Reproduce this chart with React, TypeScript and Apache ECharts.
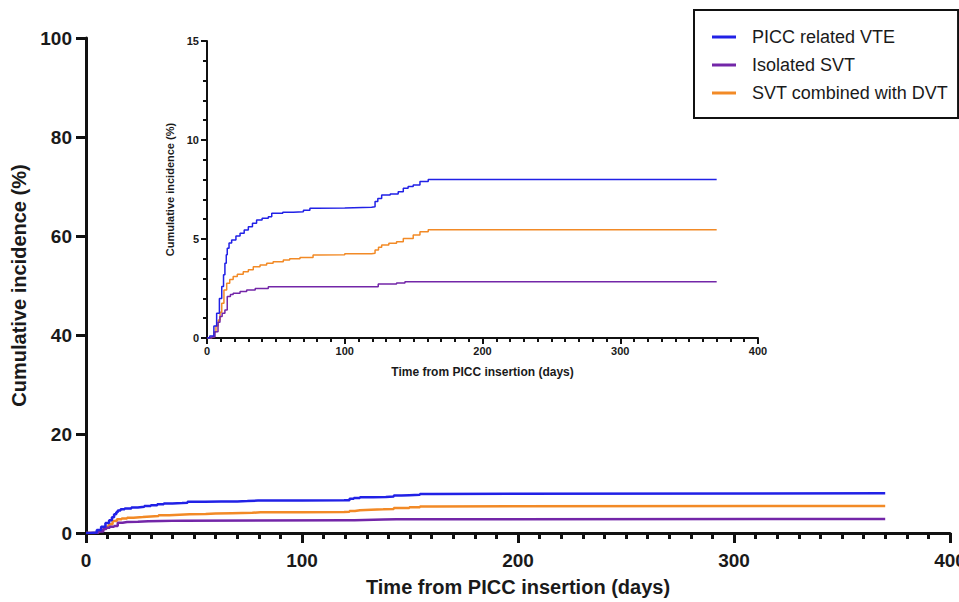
import React, { useEffect, useRef } from "react";
import * as echarts from "echarts";

// ---- Data (cumulative incidence, %) ----
const seriesNames = ["PICC related VTE", "Isolated SVT", "SVT combined with DVT"];
const seriesColors = ["#2121e6", "#7326a8", "#f28a26"];

const vteDays = [0, 2, 5, 7, 9, 10.7, 12, 13, 14, 14.7, 16, 17.9, 21, 24, 27, 30, 33, 36, 40, 44.5, 47, 55, 62.6, 70, 74.7, 79.6, 100, 119.5, 122, 124, 126.8, 133, 138.8, 142.5, 146, 149.7, 154.6, 160.6, 370];
const vteValues = [0, 0.1, 0.6, 1.25, 2.0, 2.6, 3.2, 3.77, 4.2, 4.53, 4.8, 4.95, 5.15, 5.29, 5.45, 5.62, 5.8, 5.96, 6.05, 6.13, 6.3, 6.35, 6.38, 6.45, 6.55, 6.57, 6.6, 6.63, 6.9, 7.05, 7.22, 7.27, 7.39, 7.56, 7.65, 7.73, 7.9, 8.01, 8.01];

const svtDays = [0, 3.5, 5.8, 8, 9.4, 11, 13, 14.7, 17, 19, 24, 28.8, 35, 44.5, 120.7, 124.3, 137.6, 143.7, 370];
const svtValues = [0, 0.05, 0.32, 0.8, 1.08, 1.25, 1.41, 2.09, 2.2, 2.26, 2.35, 2.42, 2.5, 2.59, 2.59, 2.73, 2.78, 2.84, 2.84];

const dvtDays = [0, 3.5, 5, 6.5, 8.2, 9.5, 10.7, 12.3, 14.3, 16.5, 19, 22, 26.3, 30, 33.6, 38.5, 43.3, 48, 55.4, 60, 67.5, 77, 80.8, 100, 119.5, 122, 124.5, 126.8, 132, 137.6, 142.5, 149.7, 154.6, 160.6, 370];
const dvtValues = [0, 0.05, 0.3, 0.6, 0.91, 1.3, 1.75, 2.42, 2.76, 2.95, 3.1, 3.22, 3.35, 3.45, 3.6, 3.69, 3.77, 3.85, 3.94, 4.0, 4.07, 4.19, 4.2, 4.25, 4.28, 4.44, 4.58, 4.7, 4.78, 4.86, 5.03, 5.2, 5.37, 5.47, 5.47];

// Axis tick values
const mainYTicks = [0, 20, 40, 60, 80, 100];
const insetYTicks = [0, 5, 10, 15];
const xTicks = [0, 100, 200, 300, 400];

const FONT = "'Liberation Sans', Arial, Helvetica, sans-serif";

function pairs(xs: number[], ys: number[]) {
  return xs.map((x, i) => [x, ys[i]]);
}

export default function App() {
  const ref = useRef<HTMLDivElement>(null);

  useEffect(() => {
    if (!ref.current) return;
    const chart = echarts.init(ref.current, null, { renderer: "svg" });
    const sets = [
      pairs(vteDays, vteValues),
      pairs(svtDays, svtValues),
      pairs(dvtDays, dvtValues),
    ];

    const xAxisCommon = (main: boolean) => ({
      type: "value" as const,
      min: xTicks[0],
      max: xTicks[xTicks.length - 1],
      interval: xTicks[1] - xTicks[0],
      name: "Time from PICC insertion (days)",
      nameLocation: "middle" as const,
      nameGap: main ? 44 : 28,
      nameTextStyle: {
        fontFamily: FONT,
        fontWeight: "bold" as const,
        fontSize: main ? 20 : 12,
        color: "#1a1a1a",
      },
      axisLine: { show: true, lineStyle: { color: "#111", width: main ? 3 : 2 } },
      axisTick: { show: true, length: main ? 10 : 6, lineStyle: { color: "#111", width: main ? 3 : 2 } },
      minorTick: { show: true, splitNumber: 10, length: main ? 6 : 4, lineStyle: { color: "#111", width: main ? 3 : 2 } },
      splitLine: { show: false },
      minorSplitLine: { show: false },
      axisLabel: {
        fontFamily: FONT,
        fontWeight: "bold" as const,
        fontSize: main ? 19 : 11,
        color: "#1a1a1a",
        margin: main ? 18 : 7,
      },
    });

    const option: any = {
      animation: false,
      backgroundColor: "#ffffff",
      legend: {
        data: seriesNames,
        orient: "vertical",
        left: 694,
        top: 10,
        padding: [18, 10, 16, 18],
        itemGap: 10,
        itemWidth: 24,
        itemHeight: 3,
        icon: "rect",
        borderColor: "#111",
        borderWidth: 2,
        textStyle: {
          fontFamily: FONT,
          fontSize: 18,
          color: "#1a1a1a",
          padding: [0, 0, 0, 11],
        },
      },
      grid: [
        { left: 86, right: 9, top: 38, bottom: 69, outerBoundsMode: "none", containLabel: false },
        { left: 207, right: 201, top: 41, bottom: 264, outerBoundsMode: "none", containLabel: false },
      ],
      xAxis: [
        { ...xAxisCommon(true), gridIndex: 0 },
        { ...xAxisCommon(false), gridIndex: 1 },
      ],
      yAxis: [
        {
          gridIndex: 0,
          type: "value",
          min: mainYTicks[0],
          max: mainYTicks[mainYTicks.length - 1],
          interval: mainYTicks[1] - mainYTicks[0],
          name: "Cumulative incidence (%)",
          nameLocation: "middle",
          nameGap: 56,
          nameTextStyle: { fontFamily: FONT, fontWeight: "bold", fontSize: 20, color: "#1a1a1a" },
          axisLine: { show: true, lineStyle: { color: "#111", width: 3 } },
          axisTick: { show: true, length: 10, lineStyle: { color: "#111", width: 3 } },
          splitLine: { show: false },
          axisLabel: { fontFamily: FONT, fontWeight: "bold", fontSize: 19, color: "#1a1a1a", margin: 14 },
        },
        {
          gridIndex: 1,
          type: "value",
          min: insetYTicks[0],
          max: insetYTicks[insetYTicks.length - 1],
          interval: insetYTicks[1] - insetYTicks[0],
          name: "Cumulative incidence (%)",
          nameLocation: "middle",
          nameGap: 21,
          nameTextStyle: { fontFamily: FONT, fontWeight: "bold", fontSize: 11, color: "#1a1a1a" },
          axisLine: { show: true, lineStyle: { color: "#111", width: 2 } },
          axisTick: { show: true, length: 6, lineStyle: { color: "#111", width: 2 } },
          minorTick: { show: true, splitNumber: 5, length: 4, lineStyle: { color: "#111", width: 2 } },
          splitLine: { show: false },
          minorSplitLine: { show: false },
          axisLabel: { fontFamily: FONT, fontWeight: "bold", fontSize: 11, color: "#1a1a1a", margin: 8 },
        },
      ],
      series: [
        ...sets.map((d, i) => ({
          name: seriesNames[i],
          type: "line",
          xAxisIndex: 0,
          yAxisIndex: 0,
          data: d,
          step: "end",
          symbol: "none",
          color: seriesColors[i],
          lineStyle: { width: 2.5, color: seriesColors[i] },
          z: 3 - i,
        })),
        ...sets.map((d, i) => ({
          name: seriesNames[i],
          type: "line",
          xAxisIndex: 1,
          yAxisIndex: 1,
          data: d,
          step: "end",
          symbol: "none",
          color: seriesColors[i],
          lineStyle: { width: 1.5, color: seriesColors[i] },
          z: 3 - i,
        })),
      ],
    };

    chart.setOption(option);
    return () => chart.dispose();
  }, []);

  return (
    <div
      ref={ref}
      style={{ position: "fixed", left: 0, top: 0, width: 959, height: 602, background: "#fff" }}
    />
  );
}
